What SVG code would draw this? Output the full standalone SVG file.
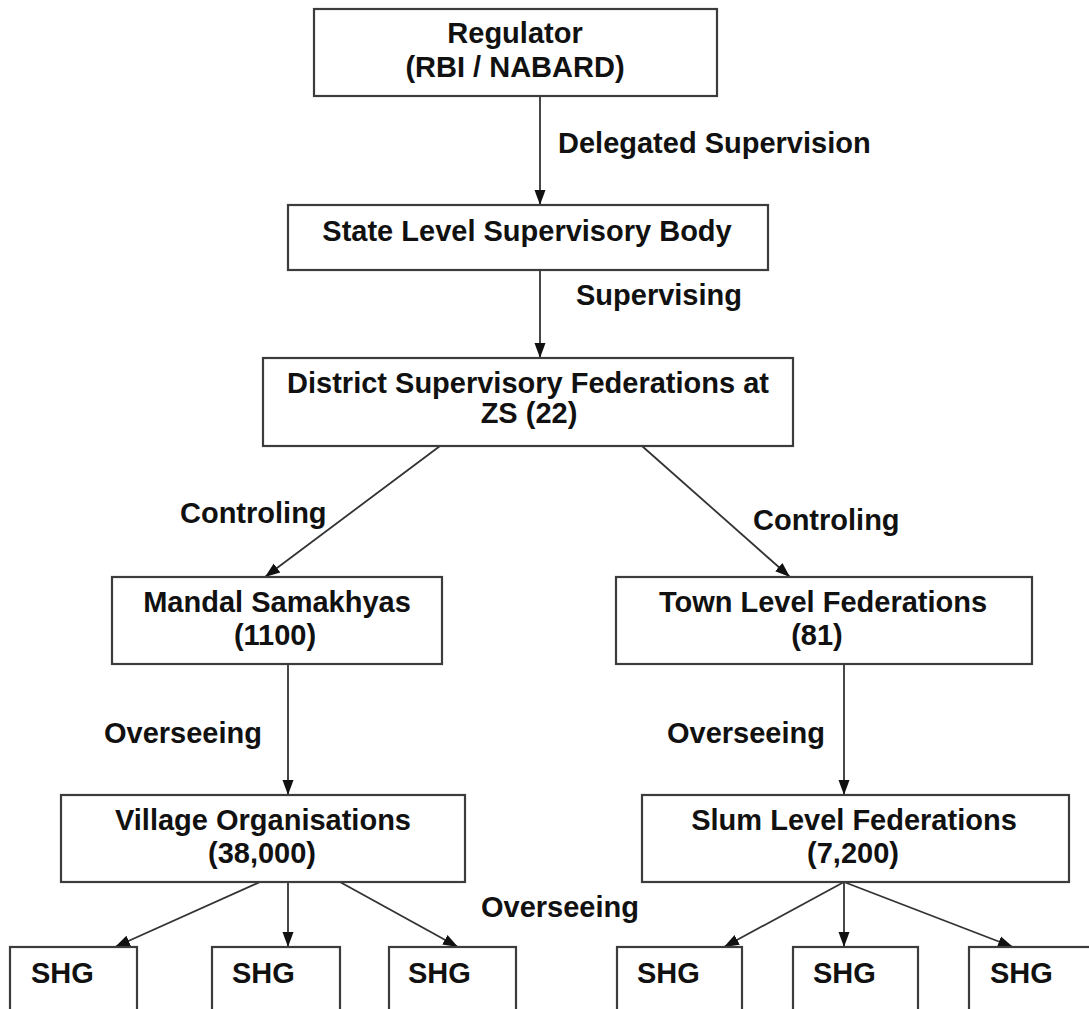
<svg xmlns="http://www.w3.org/2000/svg" width="1089" height="1009" viewBox="0 0 1089 1009">
<defs>
<style>
.box{fill:#fff;stroke:#3c3c3c;stroke-width:2.2}
.t{font-family:"Liberation Sans",Arial,sans-serif;font-weight:bold;font-size:29px;fill:#111}
.c{text-anchor:middle}
.ln{stroke:#333;stroke-width:1.8;fill:none;marker-end:url(#ah)}
</style>
<marker id="ah" markerUnits="userSpaceOnUse" markerWidth="16" markerHeight="14" viewBox="0 0 16 14" refX="15" refY="7" orient="auto">
<path d="M0,1.5 L15,7 L0,12.5 Z" fill="#111"/>
</marker>
</defs>
<rect width="1089" height="1009" fill="#fff"/>
<g id="connectors">
<line class="ln" x1="540" y1="96" x2="540" y2="205"/>
<line class="ln" x1="540" y1="270" x2="540" y2="358"/>
<line class="ln" x1="440" y1="446" x2="265" y2="577"/>
<line class="ln" x1="642" y1="446" x2="790" y2="577"/>
<line class="ln" x1="288" y1="664" x2="288" y2="795"/>
<line class="ln" x1="844" y1="664" x2="844" y2="795"/>
<line class="ln" x1="260" y1="882" x2="115" y2="947"/>
<line class="ln" x1="288" y1="882" x2="288" y2="947"/>
<line class="ln" x1="340" y1="882" x2="458" y2="947"/>
<line class="ln" x1="844" y1="882" x2="724" y2="947"/>
<line class="ln" x1="844" y1="882" x2="844" y2="947"/>
<line class="ln" x1="844" y1="882" x2="1013" y2="947"/>
</g>
<g id="labels">
<text class="t" x="558" y="153">Delegated Supervision</text>
<text class="t" x="576" y="305">Supervising</text>
<text class="t" x="180" y="523">Controling</text>
<text class="t" x="753" y="530">Controling</text>
<text class="t" x="104" y="743">Overseeing</text>
<text class="t" x="667" y="743">Overseeing</text>
<text class="t" x="481" y="917">Overseeing</text>
</g>
<g id="regulator">
<rect class="box" x="314" y="9" width="403" height="87"/>
<text class="t c" x="515" y="43">Regulator</text>
<text class="t c" x="515" y="77">(RBI / NABARD)</text>
</g>
<g id="state">
<rect class="box" x="288" y="205" width="480" height="65"/>
<text class="t c" x="527" y="241">State Level Supervisory Body</text>
</g>
<g id="district">
<rect class="box" x="263" y="358" width="530" height="88"/>
<text class="t c" x="528" y="393">District Supervisory Federations at</text>
<text class="t c" x="529" y="423">ZS (22)</text>
</g>
<g id="mandal">
<rect class="box" x="112" y="577" width="330" height="87"/>
<text class="t c" x="277" y="612">Mandal Samakhyas</text>
<text class="t c" x="275" y="645">(1100)</text>
</g>
<g id="town">
<rect class="box" x="616" y="577" width="416" height="87"/>
<text class="t c" x="823" y="612">Town Level Federations</text>
<text class="t c" x="817" y="645">(81)</text>
</g>
<g id="village">
<rect class="box" x="61" y="795" width="404" height="87"/>
<text class="t c" x="263" y="830">Village Organisations</text>
<text class="t c" x="262" y="863">(38,000)</text>
</g>
<g id="slum">
<rect class="box" x="642" y="795" width="427" height="87"/>
<text class="t c" x="854" y="830">Slum Level Federations</text>
<text class="t c" x="853" y="863">(7,200)</text>
</g>
<g id="shg1"><rect class="box" x="10" y="947" width="127" height="80"/><text class="t" x="31" y="983">SHG</text></g>
<g id="shg2"><rect class="box" x="212" y="947" width="128" height="80"/><text class="t" x="232" y="983">SHG</text></g>
<g id="shg3"><rect class="box" x="389" y="947" width="127" height="80"/><text class="t" x="408" y="983">SHG</text></g>
<g id="shg4"><rect class="box" x="617" y="947" width="125" height="80"/><text class="t" x="637" y="983">SHG</text></g>
<g id="shg5"><rect class="box" x="793" y="947" width="125" height="80"/><text class="t" x="813" y="983">SHG</text></g>
<g id="shg6"><rect class="box" x="969" y="947" width="126" height="80"/><text class="t" x="990" y="983">SHG</text></g>
</svg>
